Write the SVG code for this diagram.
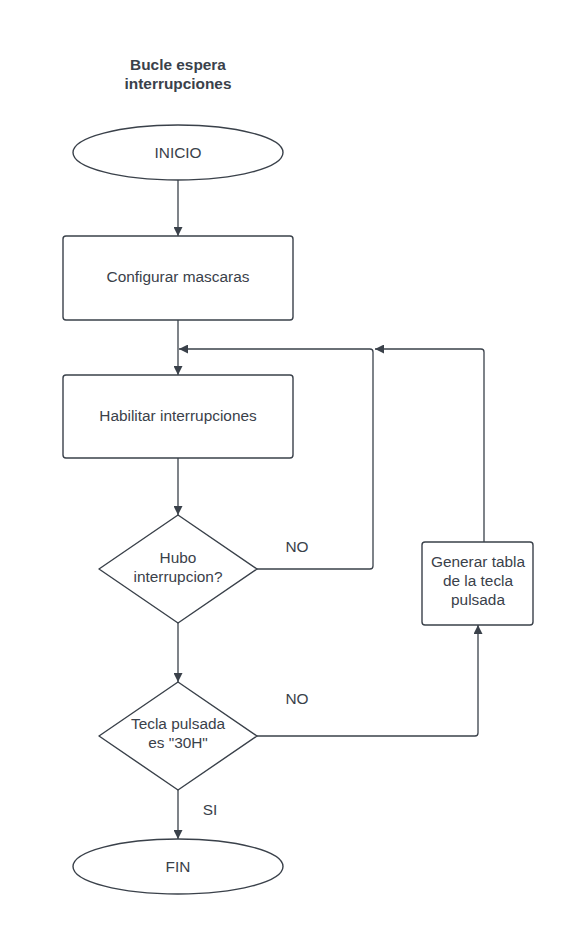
<svg xmlns="http://www.w3.org/2000/svg" width="562" height="949" viewBox="0 0 562 949">
<defs>
<marker id="ah" viewBox="0 0 10 10" refX="10" refY="5" markerWidth="9" markerHeight="9" markerUnits="userSpaceOnUse" orient="auto">
<path d="M0,0 L10,5 L0,10 z" fill="#3a414a"/>
</marker>
<style>
.s{fill:#ffffff;stroke:#3a414a;stroke-width:1.4}
.c{fill:none;stroke:#3a414a;stroke-width:1.3;marker-end:url(#ah)}
text{font-family:"Liberation Sans",Arial,sans-serif;font-size:15.4px;fill:#3a414a;text-anchor:middle}
.t{font-weight:bold;font-size:15.4px}
</style>
</defs>
<rect width="562" height="949" fill="#ffffff"/>
<g id="title">
<text class="t" x="178" y="70">Bucle espera</text>
<text class="t" x="178" y="89">interrupciones</text>
</g>
<g id="connectors">
<path class="c" d="M178,180 L178,236"/>
<path class="c" d="M178,320 L178,375"/>
<path class="c" d="M257,569 L370,569 Q373,569 373,566 L373,352 Q373,349 370,349 L179,349"/>
<path class="c" d="M178,458 L178,515"/>
<path class="c" d="M178,623 L178,682"/>
<path class="c" d="M257,736 L475,736 Q478,736 478,733 L478,625"/>
<path class="c" d="M484,542 L484,352 Q484,349 481,349 L375,349"/>
<path class="c" d="M178,790 L178,839"/>
</g>
<g id="inicio">
<ellipse class="s" cx="178" cy="152.5" rx="105" ry="27.5"/>
<text x="178" y="158">INICIO</text>
</g>
<g id="configurar">
<rect class="s" x="63" y="236" width="230" height="84" rx="3"/>
<text x="178" y="281.5">Configurar mascaras</text>
</g>
<g id="habilitar">
<rect class="s" x="63" y="375" width="230" height="83" rx="3"/>
<text x="178" y="420.5">Habilitar interrupciones</text>
</g>
<g id="hubo">
<path class="s" d="M178,515 L257,569 L178,623 L99,569 Z" stroke-linejoin="round"/>
<text x="178" y="563">Hubo</text>
<text x="178" y="582">interrupcion?</text>
</g>
<g id="tecla">
<path class="s" d="M178,682 L257,736 L178,790 L99,736 Z" stroke-linejoin="round"/>
<text x="178" y="729">Tecla pulsada</text>
<text x="178" y="748">es "30H"</text>
</g>
<g id="generar">
<rect class="s" x="422" y="542" width="111" height="83" rx="3"/>
<text x="478" y="567">Generar tabla</text>
<text x="478" y="586">de la tecla</text>
<text x="478" y="605">pulsada</text>
</g>
<g id="fin">
<ellipse class="s" cx="178" cy="866.5" rx="105" ry="27.5"/>
<text x="178" y="872">FIN</text>
</g>
<g id="labels">
<text x="297" y="552">NO</text>
<text x="297" y="704">NO</text>
<text x="210" y="815">SI</text>
</g>
</svg>
